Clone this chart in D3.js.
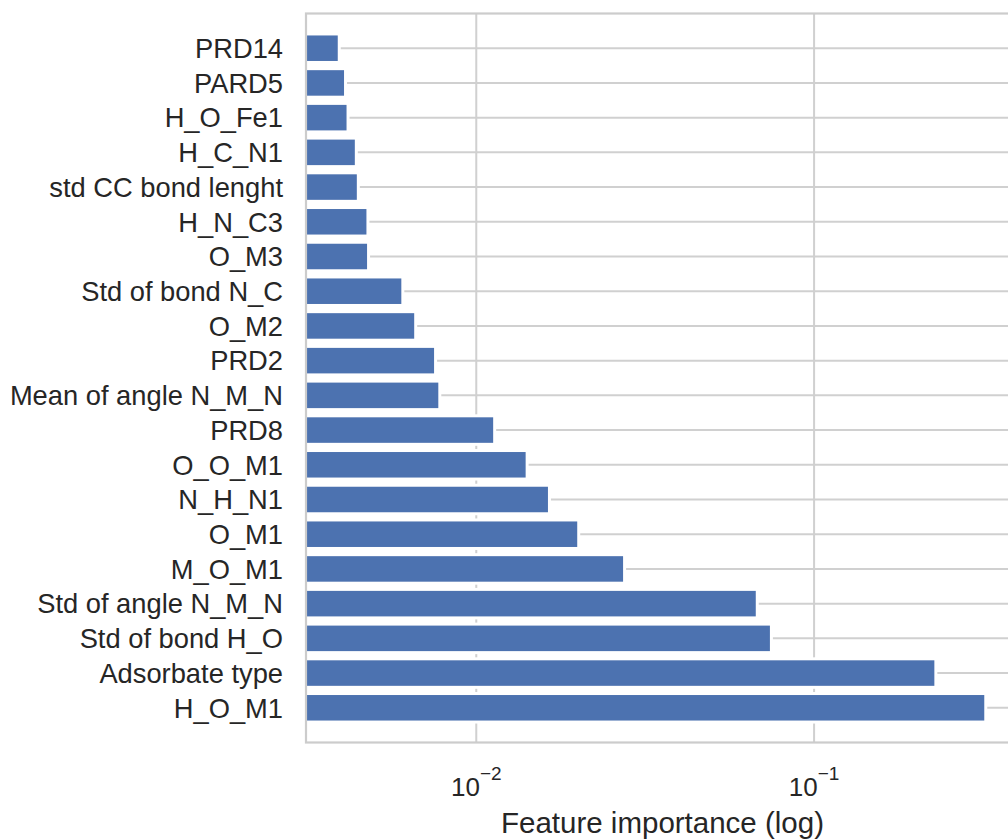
<!DOCTYPE html>
<html>
<head>
<meta charset="utf-8">
<script src="https://cdn.jsdelivr.net/npm/d3@7"></script>
<style>
  html, body { margin: 0; padding: 0; background: #fff; overflow: hidden; }
  svg { display: block; }
  text { font-family: "Liberation Sans", Arial, sans-serif; fill: #262626; }
</style>
</head>
<body>
<div id="chart"></div>
<script>
// feature names, top to bottom
const features = [
  "PRD14", "PARD5", "H_O_Fe1", "H_C_N1", "std CC bond lenght", "H_N_C3", "O_M3",
  "Std of bond N_C", "O_M2", "PRD2", "Mean of angle N_M_N", "PRD8", "O_O_M1",
  "N_H_N1", "O_M1", "M_O_M1", "Std of angle N_M_N", "Std of bond H_O",
  "Adsorbate type", "H_O_M1"
];
// importance values
const importance = [
  0.00389, 0.00406, 0.00413, 0.00437, 0.00443, 0.00473, 0.00475,
  0.00600, 0.00655, 0.00750, 0.00772, 0.01122, 0.01400,
  0.01630, 0.01990, 0.02720, 0.06720, 0.07400,
  0.22700, 0.31900
];
const xTicks = [0.01, 0.1];
const xTickExp = ["\u22122", "\u22121"];
const xLabel = "Feature importance (log)";

const width = 1008, height = 839;
const plot = { left: 306, right: 1019, top: 13.5, bottom: 742.5 };

const svg = d3.select("#chart").append("svg")
    .attr("width", width)
    .attr("height", height);

const x = d3.scaleLog()
    .domain([0.003133, 0.4042])
    .range([plot.left, plot.right]);

const y = d3.scaleBand()
    .domain(features)
    .range([plot.top, plot.bottom])
    .paddingInner(0.265)
    .paddingOuter(0.6325);

const gridColor = "#d0d0d0";

// horizontal gridlines at bar centres
svg.append("g").selectAll("line")
    .data(features)
    .join("line")
    .attr("x1", plot.left).attr("x2", plot.right)
    .attr("y1", d => y(d) + y.bandwidth() / 2)
    .attr("y2", d => y(d) + y.bandwidth() / 2)
    .attr("stroke", gridColor)
    .attr("stroke-width", 2);

// vertical gridlines
svg.append("g").selectAll("line")
    .data(xTicks)
    .join("line")
    .attr("x1", d => x(d)).attr("x2", d => x(d))
    .attr("y1", plot.top).attr("y2", plot.bottom)
    .attr("stroke", gridColor)
    .attr("stroke-width", 2);

// bars, white edge leaves a gap before the gridline
svg.append("g").selectAll("rect")
    .data(features)
    .join("rect")
    .attr("x", plot.left)
    .attr("y", d => y(d))
    .attr("width", (d, i) => x(importance[i]) - plot.left)
    .attr("height", y.bandwidth())
    .attr("fill", "#4c72b0")
    .attr("stroke", "#fff")
    .attr("stroke-width", 6)
    .style("paint-order", "stroke");

// frame
svg.append("rect")
    .attr("x", plot.left)
    .attr("y", plot.top)
    .attr("width", plot.right - plot.left)
    .attr("height", plot.bottom - plot.top)
    .attr("fill", "none")
    .attr("stroke", "#cccccc")
    .attr("stroke-width", 2.2);

// y labels
svg.append("g").selectAll("text")
    .data(features)
    .join("text")
    .attr("x", 283)
    .attr("y", d => y(d) + y.bandwidth() / 2)
    .attr("dy", "0.36em")
    .attr("text-anchor", "end")
    .attr("font-size", 27.3)
    .text(d => d);

// x tick labels, 10 with superscript exponent
const tick = svg.append("g").selectAll("text")
    .data(xTicks)
    .join("text")
    .attr("x", d => x(d))
    .attr("y", 796)
    .attr("text-anchor", "middle")
    .attr("font-size", 26);
tick.append("tspan").text("10");
tick.append("tspan")
    .attr("font-size", 19)
    .attr("dy", -16)
    .text((d, i) => xTickExp[i]);

// x axis label
svg.append("text")
    .attr("x", (plot.left + plot.right) / 2)
    .attr("y", 833)
    .attr("text-anchor", "middle")
    .attr("font-size", 29.5)
    .text(xLabel);
</script>
</body>
</html>
